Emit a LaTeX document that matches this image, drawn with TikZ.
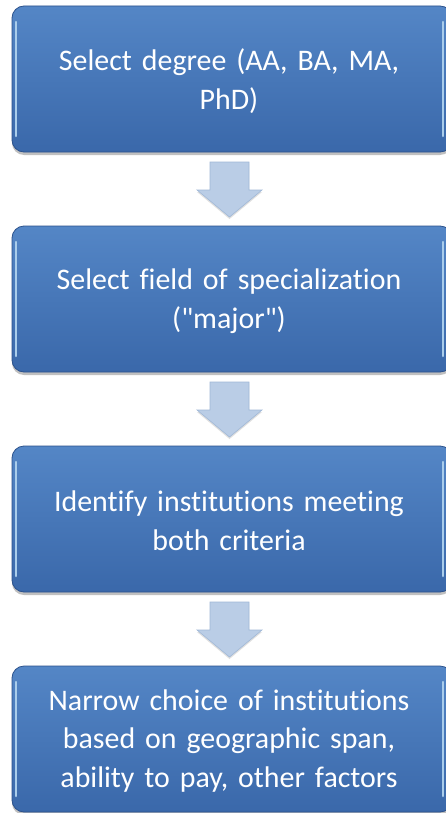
\documentclass[tikz,border=0pt]{standalone}
\usepackage{fontspec}
\newfontfamily\boxfont{Carlito}[Ligatures=NoCommon]
\usetikzlibrary{shadows}
\definecolor{boxtop}{RGB}{84,134,198}
\definecolor{boxbot}{RGB}{58,104,170}
\definecolor{boxedge}{RGB}{44,82,140}
\definecolor{bevel}{RGB}{170,205,235}
\definecolor{arrowfill}{RGB}{186,205,230}
\definecolor{arrowedge}{RGB}{160,184,215}
\tikzset{
  stepbox/.style={rounded corners=12bp, top color=boxtop, bottom color=boxbot,
    draw=boxedge, line width=0.8bp,
    drop shadow={shadow xshift=0bp, shadow yshift=-3bp, opacity=0.35, fill=black!70}},
  steptext/.style={text=white, align=center, font=\boxfont\fontsize{30}{39}\selectfont,
    text width=420bp, inner sep=0pt},
  downarrow/.style={fill=arrowfill, draw=arrowedge, line width=0.6bp,
    drop shadow={shadow xshift=0bp, shadow yshift=-2bp, opacity=0.25}},
}
\begin{document}
\begin{tikzpicture}[x=1bp,y=-1bp]
\useasboundingbox (0,0) rectangle (446,813);
\fill[white] (0,0) rectangle (446,813);
% four process boxes, pitch 220
\foreach \i/\t in {0/{Select degree (AA, BA, MA,\\PhD)},
                   1/{Select field of specialization\\("major")},
                   2/{Identify institutions meeting\\both criteria},
                   3/{Narrow choice of institutions\\based on geographic span,\\ability to pay, other factors}}{
  \pgfmathsetmacro{\yt}{6+220*\i}
  \pgfmathsetmacro{\yb}{\yt+146}
  \path[stepbox] (12,\yt) rectangle (452,\yb);
  % bevel highlights on the side edges
  \draw[bevel, line width=2.5bp, line cap=round] (16,\yt+16) -- (16,\yb-16);
  \draw[bevel, line width=2.5bp, line cap=round] (443,\yt+16) -- (443,\yb-16);
  \node[steptext] (b\i) at (229,\yt+75) {\t};
}
% block arrows between boxes
\foreach \i in {0,1,2}{
  \pgfmathsetmacro{\ya}{162+220*\i}
  \path[downarrow] (210,\ya) -- (249,\ya) -- (249,\ya+28) -- (262,\ya+28)
     -- (229.5,\ya+55) -- (197,\ya+28) -- (210,\ya+28) -- cycle;
}
\end{tikzpicture}
\end{document}
